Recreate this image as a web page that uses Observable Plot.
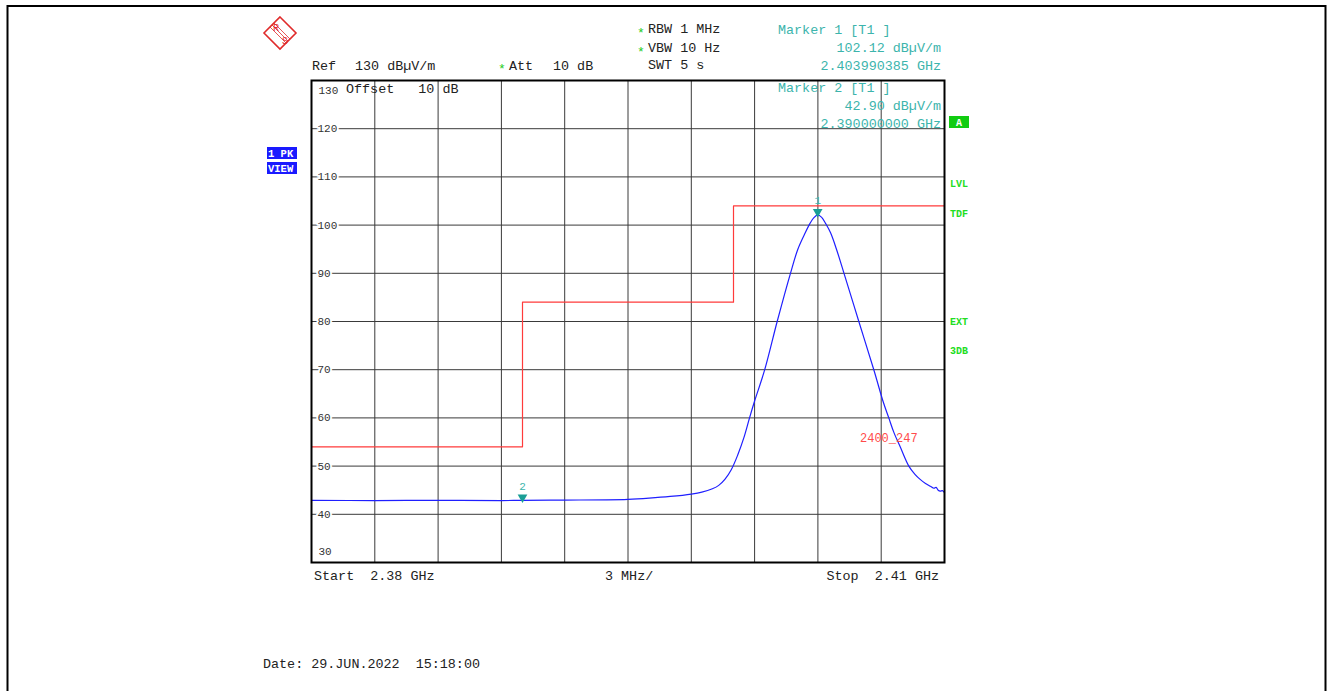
<!DOCTYPE html>
<html><head><meta charset="utf-8">
<script src="https://cdn.jsdelivr.net/npm/d3@7"></script>
<script src="https://cdn.jsdelivr.net/npm/@observablehq/plot@0.6"></script>
<style>body{margin:0;background:#fff} svg{display:block} text{white-space:pre}</style>
</head><body><div id="chart"></div>
<script>
// Trace (frequency in GHz, level in dBµV/m)
const traceFreq = [2.380, 2.383, 2.386, 2.389, 2.390, 2.392, 2.394, 2.395, 2.396, 2.397, 2.398, 2.3985, 2.399, 2.3993, 2.3996, 2.3999, 2.4002, 2.4005, 2.40076, 2.4010, 2.40148, 2.40207, 2.4027, 2.40305, 2.4034, 2.40362, 2.4038, 2.40399, 2.40418, 2.40437, 2.4046, 2.40488, 2.40523, 2.40594, 2.40665, 2.40709, 2.40736, 2.4076, 2.40791, 2.40831, 2.4086, 2.40886, 2.4091, 2.40933, 2.4095, 2.4096, 2.4097, 2.4098, 2.4099, 2.4100];
const traceLevel = [42.9, 42.85, 42.9, 42.85, 42.9, 42.95, 43.0, 43.1, 43.35, 43.7, 44.2, 44.6, 45.3, 46.0, 47.3, 49.3, 52.3, 56.0, 60.0, 63.5, 70.0, 80.0, 90.0, 95.0, 98.4, 100.3, 101.5, 102.12, 101.6, 100.3, 98.4, 95.0, 90.1, 80.0, 70.0, 63.4, 60.0, 57.0, 53.9, 50.0, 48.3, 47.2, 46.4, 45.8, 45.4, 45.6, 45.0, 44.8, 44.9, 44.5];
// Limit line
const limitFreq = [2.380, 2.390, 2.390, 2.400, 2.400, 2.410];
const limitLevel = [54, 54, 84, 84, 104, 104];
// Markers
const markerName = ["1", "2"];
const markerFreq = [2.40399, 2.390];
const markerLevel = [102.12, 42.90];
// Ticks
const yTicks = [130, 120, 110, 100, 90, 80, 70, 60, 50, 40, 30];
const xTicks = [2.380, 2.383, 2.386, 2.389, 2.392, 2.395, 2.398, 2.401, 2.404, 2.407, 2.410];

const trace = traceFreq.map((f, i) => ({f, v: traceLevel[i]}));
const limit = limitFreq.map((f, i) => ({f, v: limitLevel[i]}));
const markers = markerName.map((n, i) => ({n, f: markerFreq[i], v: markerLevel[i]}));
const yInner = yTicks.slice(1, -1);

const teal = "#3cb4ac", green = "#22dd22";
const FONT = "'Courier New', 'Nimbus Mono PS', 'FreeMono', 'Liberation Mono', monospace";

const plot = Plot.plot({
  width: 1332, height: 691,
  marginLeft: 311, marginRight: 388, marginTop: 80, marginBottom: 129,
  x: {domain: [2.38, 2.41], axis: null},
  y: {domain: [30, 130], axis: null},
  style: {fontFamily: FONT, background: "#fff"},
  marks: [
    Plot.ruleX(xTicks.slice(1, -1), {stroke: "#3a3a3a", strokeWidth: 1}),
    Plot.ruleY(yInner, {stroke: "#3a3a3a", strokeWidth: 1}),
    Plot.text(yInner, {x: () => 2.38, y: d => d, text: d => String(d), dx: 6, textAnchor: "start", fill: "#333", stroke: "white", strokeWidth: 4, fontSize: 11}),
    Plot.text([yTicks[0]], {x: () => 2.38, y: d => d, text: d => String(d), dx: 7, dy: 10, textAnchor: "start", fill: "#333", fontSize: 11}),
    Plot.text([yTicks[yTicks.length - 1]], {x: () => 2.38, y: d => d, text: d => String(d), dx: 7, dy: -11, textAnchor: "start", fill: "#333", fontSize: 11}),
    Plot.line(limit, {x: "f", y: "v", stroke: "#ff3b3b", strokeWidth: 1.2}),
    Plot.line(trace, {x: "f", y: "v", stroke: "#1f1fff", strokeWidth: 1.2, curve: "catmull-rom"}),
    Plot.dot(markers, {x: "f", y: "v", symbol: "triangle", r: 3.6, fill: "#1a9e96", rotate: 180, dy: -3}),
    Plot.text(markers, {x: "f", y: "v", text: "n", dy: -14, fill: teal, fontSize: 11}),
    Plot.frame({stroke: "#000", strokeWidth: 2})
  ]
});
document.getElementById("chart").append(plot);

// Annotation layer (instrument header / footer)
const svg = d3.select(plot);
const g = svg.append("g").attr("font-family", FONT);
// outer frame
g.append("path").attr("d", "M7.5,691 V6 H1325.5 V691").attr("fill", "none").attr("stroke", "#000").attr("stroke-width", 2);

function txt(x, y, s, opts = {}) {
  const t = g.append("text").attr("x", x).attr("y", y).text(s)
    .attr("font-size", opts.size || 13.4).attr("fill", opts.fill || "#222")
    .attr("text-anchor", opts.anchor || "start");
  if (opts.bold) t.attr("font-weight", "bold");
  return t;
}
// green stars
[[637, 37], [637, 56], [498, 73]].forEach(([x, y]) => txt(x, y, "*", {size: 13, fill: "#22cc22"}));
txt(648, 33, "RBW 1 MHz");
txt(648, 52, "VBW 10 Hz");
txt(648, 69, "SWT 5 s");
txt(312, 70, "Ref");
txt(355, 70, "130 dBµV/m");
txt(509, 70, "Att");
txt(553, 70, "10 dB");
txt(346, 93, "Offset   10 dB");
txt(778, 34, "Marker 1 [T1 ]", {fill: teal});
txt(941, 52, "102.12 dBµV/m", {fill: teal, anchor: "end"});
txt(941, 70, "2.403990385 GHz", {fill: teal, anchor: "end"});
txt(778, 92, "Marker 2 [T1 ]", {fill: teal});
txt(941, 110, "42.90 dBµV/m", {fill: teal, anchor: "end"});
txt(941, 128, "2.390000000 GHz", {fill: teal, anchor: "end"});
txt(860, 442, "2400_247", {fill: "#ff4b4b", size: 12});
txt(314, 580, "Start  2.38 GHz");
txt(605, 580, "3 MHz/");
txt(939, 580, "Stop  2.41 GHz", {anchor: "end"});
txt(263, 668, "Date: 29.JUN.2022  15:18:00");
// green "A" box
g.append("rect").attr("x", 949).attr("y", 116).attr("width", 20).attr("height", 12).attr("fill", "#11cc11");
txt(959, 126, "A", {size: 10, fill: "#fff", anchor: "middle", bold: true});
// right-side status labels
[["LVL", 187], ["TDF", 217], ["EXT", 325], ["3DB", 354]].forEach(([s, y]) => txt(950, y, s, {size: 10, fill: green, bold: true}));
// trace boxes
[["1 PK", 147], ["VIEW", 162]].forEach(([s, y]) => {
  g.append("rect").attr("x", 267).attr("y", y).attr("width", 30).attr("height", 12).attr("fill", "#1a1aff");
  txt(268, y + 9.5, s, {size: 10.5, fill: "#fff", bold: true});
});
// R&S logo
const logo = g.append("g").attr("transform", "translate(280,33)");
logo.append("path").attr("d", "M0,-16 L16,0 L0,16 L-16,0 Z").attr("fill", "none").attr("stroke", "#e02b2b").attr("stroke-width", 1.6);
[-2, 0, 2].forEach(o => logo.append("line").attr("x1", -8 + o).attr("y1", -8 - o).attr("x2", 8 + o).attr("y2", 8 - o).attr("stroke", "#e02b2b").attr("stroke-width", 0.8));
logo.append("text").attr("x", -4).attr("y", -2).attr("font-size", 10).attr("fill", "#e02b2b").attr("text-anchor", "middle").attr("font-family", FONT).text("R");
logo.append("text").attr("x", 5).attr("y", 11).attr("font-size", 10).attr("fill", "#e02b2b").attr("text-anchor", "middle").attr("font-family", FONT).text("S");
</script>
</body></html>
